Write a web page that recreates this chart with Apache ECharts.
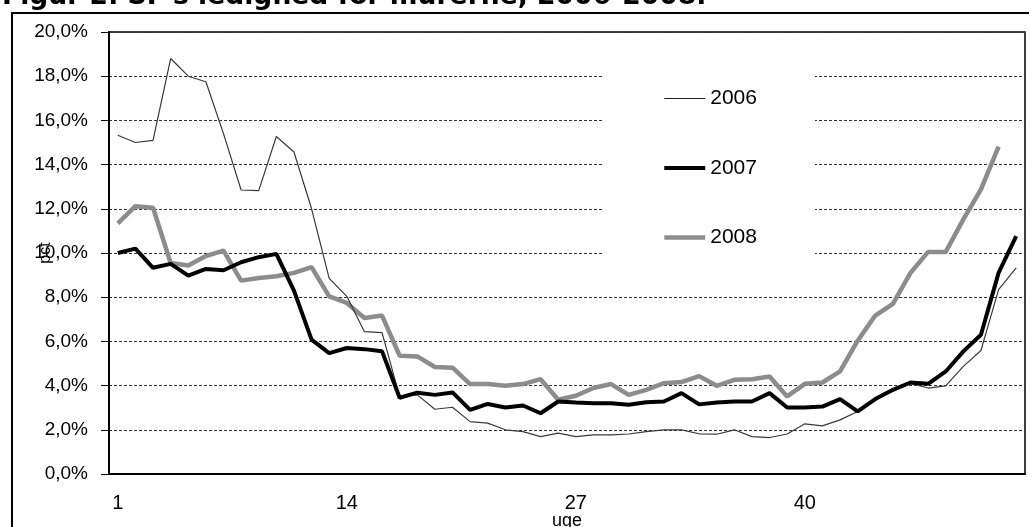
<!DOCTYPE html>
<html>
<head>
<meta charset="utf-8">
<title>Figur 2</title>
<script src="https://cdn.jsdelivr.net/npm/echarts@6/dist/echarts.min.js"></script>
<style>
  html, body { margin: 0; padding: 0; background: #fff; }
  #chart { width: 1029px; height: 527px; }
</style>
</head>
<body>
<div id="chart"></div>
<script>
// uge 1..52
var weeks = [];
for (var w = 1; w <= 52; w++) weeks.push(String(w));

// ledighed i pct
var y2006 = [15.33, 15.0, 15.1, 18.8, 18.0, 17.75, 15.4, 12.85, 12.82, 15.27,
  14.57, 12.0, 8.85, 8.04, 6.44, 6.4, 3.5, 3.58, 2.93, 3.02,
  2.37, 2.3, 2.0, 1.92, 1.69, 1.85, 1.69, 1.77, 1.77, 1.81,
  1.92, 2.0, 2.0, 1.82, 1.8, 2.0, 1.69, 1.65, 1.81, 2.27,
  2.18, 2.45, 2.83, 3.36, 3.75, 4.1, 3.89, 3.99, 4.87, 5.59,
  8.34, 9.33];

var y2007 = [10.0, 10.2, 9.33, 9.51, 8.98, 9.28, 9.22, 9.58, 9.81, 9.96,
  8.3, 6.08, 5.47, 5.7, 5.65, 5.55, 3.45, 3.68, 3.58, 3.69,
  2.9, 3.17, 3.01, 3.1, 2.75, 3.28, 3.23, 3.2, 3.2, 3.13,
  3.25, 3.28, 3.66, 3.15, 3.24, 3.28, 3.28, 3.66, 3.01, 3.01,
  3.05, 3.39, 2.83, 3.39, 3.81, 4.14, 4.08, 4.64, 5.55, 6.3,
  9.1, 10.76];

var y2008 = [11.34, 12.12, 12.05, 9.55, 9.43, 9.86, 10.11, 8.75, 8.87, 8.95,
  9.1, 9.36, 8.04, 7.74, 7.06, 7.17, 5.35, 5.32, 4.84, 4.81,
  4.07, 4.07, 3.99, 4.07, 4.29, 3.36, 3.54, 3.89, 4.07, 3.58,
  3.81, 4.11, 4.16, 4.43, 3.99, 4.26, 4.29, 4.41, 3.51, 4.08,
  4.14, 4.64, 6.03, 7.17, 7.7, 9.1, 10.05, 10.05, 11.52, 12.88,
  14.81];

var chart = echarts.init(document.getElementById('chart'));

var option = {
  animation: false,
  backgroundColor: '#fff',
  textStyle: { fontFamily: 'Liberation Sans, Arial, sans-serif', color: '#000' },
  graphic: [
    {
      type: 'text', left: 2, y: -3, z: 10,
      style: {
        text: "Figur 2. SF's ledighed for murerne, 2006-2008.",
        font: 'bold 26.6px "DejaVu Sans", Verdana, sans-serif',
        fill: '#000', verticalAlign: 'middle'
      }
    },
    {
      type: 'rect', z: 10, silent: true,
      shape: { x: 12, y: 13, width: 1030, height: 530 },
      style: { fill: 'none', stroke: '#000', lineWidth: 2 }
    }
  ],
  grid: {
    left: 109, right: 4, top: 32, bottom: 53,
    outerBoundsMode: 'none',
    show: true, borderColor: '#000', borderWidth: 1.5
  },
  legend: {
    orient: 'vertical',
    left: 603, top: 62,
    padding: [26, 58, 21, 59],
    backgroundColor: '#fff',
    itemWidth: 41, itemHeight: 14, itemGap: 48.5,
    itemStyle: { opacity: 0 },
    textStyle: { fontSize: 21, color: '#000', fontFamily: 'Liberation Sans, Arial, sans-serif' },
    data: [
      { name: '2006', lineStyle: { width: 1.2, color: '#222' } },
      { name: '2007', lineStyle: { width: 4, color: '#000' } },
      { name: '2008', lineStyle: { width: 4.5, color: '#8c8c8c' } }
    ]
  },
  xAxis: {
    type: 'category',
    data: weeks,
    boundaryGap: true,
    name: 'uge',
    nameLocation: 'middle',
    nameGap: 38,
    nameMoveOverlap: false,
    nameTextStyle: { fontSize: 18, color: '#000' },
    axisLine: { lineStyle: { color: '#000', width: 2 } },
    axisTick: { interval: 12, length: 7, lineStyle: { color: '#000', width: 1 } },
    axisLabel: { interval: 12, fontSize: 20, color: '#000', margin: 19 },
    splitLine: { show: false }
  },
  yAxis: {
    type: 'value',
    min: 0, max: 20, interval: 2,
    name: 'pct',
    nameLocation: 'middle',
    nameRotate: 90,
    nameGap: 55,
    nameMoveOverlap: false,
    nameTextStyle: { fontSize: 16, color: '#000' },
    axisLine: { show: true, lineStyle: { color: '#000', width: 2 } },
    axisTick: { show: true, length: 8, lineStyle: { color: '#000', width: 1 } },
    axisLabel: {
      fontSize: 19, color: '#000', margin: 21,
      formatter: function (v) { return v.toFixed(1).replace('.', ',') + '%'; }
    },
    splitLine: { show: true, lineStyle: { color: '#333', width: 1, type: [3, 2] } }
  },
  series: [
    {
      name: '2006', type: 'line', data: y2006,
      symbol: 'none', z: 3,
      lineStyle: { color: '#3a3a3a', width: 1.2 },
      itemStyle: { color: '#3a3a3a', opacity: 0 }
    },
    {
      name: '2007', type: 'line', data: y2007,
      symbol: 'none', z: 4,
      lineStyle: { color: '#000', width: 4 },
      itemStyle: { color: '#000', opacity: 0 }
    },
    {
      name: '2008', type: 'line', data: y2008,
      symbol: 'none', z: 2,
      lineStyle: { color: '#8c8c8c', width: 4.5 },
      itemStyle: { color: '#8c8c8c', opacity: 0 }
    }
  ]
};

chart.setOption(option);
</script>
</body>
</html>
